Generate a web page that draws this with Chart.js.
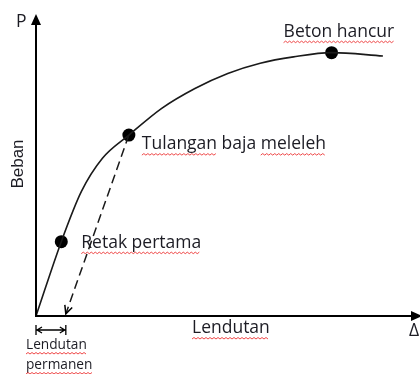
<!DOCTYPE html>
<html>
<head>
<meta charset="utf-8">
<script src="https://cdn.jsdelivr.net/npm/chart.js@4"></script>
<style>
html,body{margin:0;padding:0;background:#fff;}
canvas{display:block;}
</style>
</head>
<body>
<canvas id="c" width="420" height="374"></canvas>
<script>
// Load–deflection curve (Δ, P) in relative units 0..100
const curveX = [0, 6.7, 12.0, 17.6, 24.6, 33.3, 42.1, 50.8, 59.4, 68.2, 78.3, 91.9];
const curveY = [0, 24.7, 41.3, 52.4, 60.1, 69.0, 75.6, 80.6, 84.0, 86.1, 87.5, 86.4];
// Marked stages
const stageNames = ["Retak pertama", "Tulangan baja meleleh", "Beton hancur"];
const stageX = [6.7, 24.6, 78.3];
const stageY = [24.7, 60.1, 87.5];
// Unloading path (from yield back to permanent deflection)
const unloadX = [24.6, 7.9];
const unloadY = [60.1, 0.7];
// Axis texts
const yAxisSymbol = "P";
const yAxisTitle = "Beban";
const xAxisSymbol = "Δ";
const xAxisTitle = "Lendutan";
const permLabel = ["Lendutan", "permanen"];

const TXT = '#1c1c24';
const LBLFONT = '17.5px "Open Sans", Lato, sans-serif';

function wavy(ctx, x1, x2, y) {
  ctx.save();
  ctx.strokeStyle = 'rgba(235,40,40,0.85)';
  ctx.lineWidth = 1;
  ctx.beginPath();
  let up = true;
  ctx.moveTo(x1, y);
  for (let x = x1 + 2; x <= x2; x += 2) {
    ctx.lineTo(x, up ? y - 1.5 : y);
    up = !up;
  }
  ctx.stroke();
  ctx.restore();
}
function textWavy(ctx, text, x, y, words, off) {
  off = off || 11;
  ctx.fillText(text, x, y);
  if (!words) { wavy(ctx, x, x + ctx.measureText(text).width, y + off); return; }
  let pos = x;
  text.split(' ').forEach((w, i) => {
    const ww = ctx.measureText(w).width;
    if (words.includes(i)) wavy(ctx, pos, pos + ww, y + off);
    pos += ww + ctx.measureText(' ').width;
  });
}

const overlay = {
  id: 'overlay',
  afterDatasetsDraw(chart) {
    const ctx = chart.ctx;
    const xs = chart.scales.x, ys = chart.scales.y;
    const ox = xs.getPixelForValue(0), oy = ys.getPixelForValue(0);
    ctx.save();
    ctx.strokeStyle = '#000';
    ctx.fillStyle = '#000';
    ctx.lineWidth = 2;
    // y axis
    ctx.beginPath(); ctx.moveTo(ox, oy + 1); ctx.lineTo(ox, 24); ctx.stroke();
    ctx.beginPath(); ctx.moveTo(ox, 14); ctx.lineTo(ox - 5, 25); ctx.lineTo(ox + 5, 25); ctx.closePath(); ctx.fill();
    // x axis
    ctx.beginPath(); ctx.moveTo(ox - 1, oy); ctx.lineTo(412, oy); ctx.stroke();
    ctx.beginPath(); ctx.moveTo(422, oy); ctx.lineTo(411, oy - 5); ctx.lineTo(411, oy + 5); ctx.closePath(); ctx.fill();

    // arrowhead on unloading path
    const ax = xs.getPixelForValue(unloadX[1]), ay = ys.getPixelForValue(unloadY[1]);
    const bx = xs.getPixelForValue(unloadX[0]), by = ys.getPixelForValue(unloadY[0]);
    const ang = Math.atan2(ay - by, ax - bx);
    ctx.lineWidth = 1.5;
    ctx.beginPath();
    ctx.moveTo(ax - 9 * Math.cos(ang - 0.45), ay - 9 * Math.sin(ang - 0.45));
    ctx.lineTo(ax, ay);
    ctx.lineTo(ax - 9 * Math.cos(ang + 0.45), ay - 9 * Math.sin(ang + 0.45));
    ctx.stroke();

    // permanent deflection dimension
    const dy = oy + 14;
    ctx.lineWidth = 1.3;
    ctx.beginPath();
    ctx.moveTo(ox, dy - 5); ctx.lineTo(ox, dy + 5);
    ctx.moveTo(ax, dy - 5); ctx.lineTo(ax, dy + 5);
    ctx.moveTo(ox, dy); ctx.lineTo(ax, dy);
    ctx.moveTo(ox + 6, dy - 3); ctx.lineTo(ox + 1, dy); ctx.lineTo(ox + 6, dy + 3);
    ctx.moveTo(ax - 6, dy - 3); ctx.lineTo(ax - 1, dy); ctx.lineTo(ax - 6, dy + 3);
    ctx.stroke();

    // texts
    ctx.fillStyle = TXT;
    ctx.textBaseline = 'middle';
    ctx.textAlign = 'left';
    ctx.font = LBLFONT;
    const p = i => [xs.getPixelForValue(stageX[i]), ys.getPixelForValue(stageY[i])];
    let [x0, y0] = p(0);
    textWavy(ctx, stageNames[0], x0 + 20, y0 + 1);
    [x0, y0] = p(1);
    textWavy(ctx, stageNames[1], x0 + 13, y0 + 9, [0, 2]);
    [x0, y0] = p(2);
    textWavy(ctx, stageNames[2], x0 - 48, y0 - 21);

    textWavy(ctx, xAxisTitle, 192, oy + 12);
    ctx.fillText(xAxisSymbol, 409, oy + 15);
    ctx.fillText(yAxisSymbol, 16, 22);

    ctx.font = '13.7px "Open Sans", Lato, sans-serif';
    textWavy(ctx, permLabel[0], 26, oy + 29, null, 9);
    textWavy(ctx, permLabel[1], 26, oy + 49, null, 9);

    // rotated y title
    ctx.save();
    ctx.translate(18, 164);
    ctx.rotate(-Math.PI / 2);
    ctx.textAlign = 'center';
    ctx.font = '17px "Liberation Sans", Arial, sans-serif';
    ctx.fillText(yAxisTitle, 0, 0);
    ctx.restore();
    ctx.restore();
  }
};

new Chart(document.getElementById('c'), {
  type: 'scatter',
  data: {
    datasets: [
      {
        data: curveX.map((x, i) => ({ x, y: curveY[i] })),
        showLine: true, borderColor: '#1a1a1a', borderWidth: 1.6,
        pointRadius: 0, cubicInterpolationMode: 'monotone', clip: false
      },
      {
        data: unloadX.map((x, i) => ({ x, y: unloadY[i] })),
        showLine: true, borderColor: '#1a1a1a', borderWidth: 1.5,
        borderDash: [9, 5], pointRadius: 0, clip: false
      },
      {
        data: stageX.map((x, i) => ({ x, y: stageY[i] })),
        showLine: false, pointRadius: 6.5, pointBackgroundColor: '#000',
        pointBorderColor: '#000', pointBorderWidth: 0, clip: false
      }
    ]
  },
  options: {
    responsive: false,
    animation: false,
    devicePixelRatio: 1,
    layout: { padding: { left: 36, right: 2, top: 15, bottom: 58 } },
    plugins: { legend: { display: false }, tooltip: { enabled: false } },
    scales: {
      x: { type: 'linear', min: 0, max: 100, display: false },
      y: { type: 'linear', min: 0, max: 100, display: false }
    }
  },
  plugins: [overlay]
});
</script>
</body>
</html>
